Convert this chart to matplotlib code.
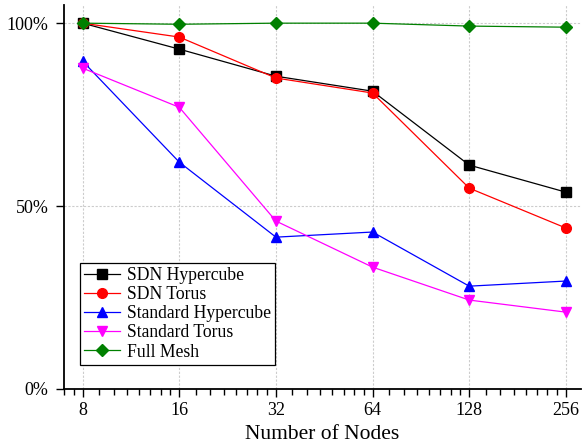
import matplotlib
matplotlib.use('Agg')
import matplotlib.pyplot as plt
from matplotlib.ticker import LogLocator, NullFormatter, FixedLocator

plt.rcParams['font.family'] = ['Liberation Serif', 'DejaVu Serif']

nodes = [8, 16, 32, 64, 128, 256]
sdn_hypercube = [100, 92.9, 85.5, 81.4, 61.2, 53.8]
sdn_torus = [100, 96.2, 85.0, 80.9, 54.9, 44.0]
std_hypercube = [89.6, 62.0, 41.5, 42.9, 28.1, 29.5]
std_torus = [87.7, 77.0, 45.9, 33.3, 24.3, 21.0]
full_mesh = [100, 99.7, 100, 100, 99.2, 98.9]

series = [
    ('SDN Hypercube', sdn_hypercube, 'black', 's'),
    ('SDN Torus', sdn_torus, 'red', 'o'),
    ('Standard Hypercube', std_hypercube, 'blue', '^'),
    ('Standard Torus', std_torus, 'magenta', 'v'),
    ('Full Mesh', full_mesh, 'green', 'D'),
]

fig = plt.figure(figsize=(5.82, 4.43), dpi=100)
ax = fig.add_axes([0.110, 0.122, 0.888, 0.867])

for label, vals, color, marker in series:
    ms = 6 if marker == 'D' else 7
    ax.plot(nodes, [v / 100 for v in vals], color=color, marker=marker,
            markersize=ms, linewidth=0.9, label=label)

ax.set_xscale('log', base=2)
ax.set_xlim(7.0, 285)
ax.set_ylim(0, 1.05)
ax.xaxis.set_major_locator(FixedLocator(nodes))
ax.set_xticklabels([str(n) for n in nodes])
ax.xaxis.set_minor_locator(LogLocator(base=2, subs=[1.125, 1.25, 1.375, 1.5, 1.625, 1.75, 1.875]))
ax.xaxis.set_minor_formatter(NullFormatter())
ax.set_yticks([0, 0.5, 1.0])
ax.set_yticklabels(['0%', '50%', '100%'])

ax.tick_params(axis='both', which='major', direction='out', length=6, width=1, labelsize=13)
ax.tick_params(axis='y', which='major', pad=5)
ax.tick_params(axis='x', which='minor', direction='out', length=4, width=1)
ax.grid(True, which='major', color='#cccccc', linestyle=(0, (2, 1.5)), linewidth=0.8)
ax.set_axisbelow(True)

for s in ['top', 'right']:
    ax.spines[s].set_visible(False)
for s in ['left', 'bottom']:
    ax.spines[s].set_linewidth(1.3)

ax.set_xlabel('Number of Nodes', fontsize=15.5, labelpad=4)

leg = ax.legend(loc='lower left', bbox_to_anchor=(16 / 518, 24 / 384),
                borderaxespad=0, fontsize=12.7, fancybox=False, framealpha=1,
                edgecolor='black', handlelength=2.0, borderpad=0.25,
                labelspacing=0.12, handletextpad=0.4)
leg.get_frame().set_linewidth(0.9)

fig.savefig('out.png', dpi=100)
